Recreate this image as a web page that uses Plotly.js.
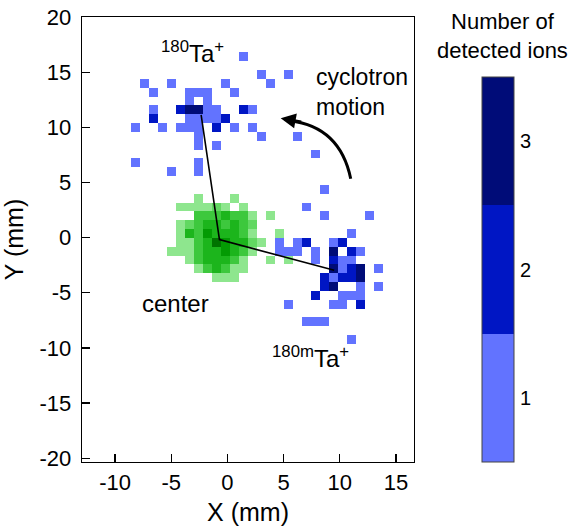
<!DOCTYPE html>
<html><head><meta charset="utf-8">
<script src="https://cdn.plot.ly/plotly-3.0.1.min.js"></script>
<style>html,body{margin:0;padding:0;background:#fff}#chart{width:573px;height:527px}</style>
</head><body><div id="chart"></div>
<script>
// detector image bins (mm)
const binSize = 0.8;
const binOriginX = -0.2;
const binOriginY = 0.4;

// blue: ions after excitation (count per pixel)
const blueX = [1.4,3.0,5.4,-7.4,-5.0,-0.2,3.8,-6.6,-3.4,-2.6,-1.8,0.6,-3.4,-1.8,
  -6.6,-4.2,-3.4,-2.6,-1.8,-1.0,1.4,2.2,-6.6,-3.4,-2.6,-1.8,-1.0,-0.2,
  -8.2,-5.8,-4.2,-3.4,-2.6,-1.0,0.6,2.2,-2.6,3.0,6.2,-2.6,-1.0,7.8,-8.2,-2.6,-5.0,-2.6,
  8.6,7.0,8.6,12.6,11.0,
  4.6,6.2,7.0,9.4,10.2,4.6,5.4,6.2,7.8,9.4,11.0,11.8,7.8,9.4,10.2,11.0,
  9.4,10.2,11.0,11.8,13.4,8.6,9.4,10.2,11.0,11.8,8.6,9.4,11.8,13.4,
  7.8,10.2,11.0,11.8,5.4,9.4,10.2,11.8,7.0,7.8,8.6,11.0];
const blueY = [16.4,14.8,14.8,14.0,14.0,14.0,14.0,13.2,13.2,13.2,13.2,13.2,12.4,12.4,
  11.6,11.6,11.6,11.6,11.6,11.6,11.6,11.6,10.8,10.8,10.8,10.8,10.8,10.8,
  10.0,10.0,10.0,10.0,10.0,10.0,10.0,10.0,9.2,9.2,9.2,8.4,8.4,7.6,6.8,6.8,6.0,6.0,
  4.4,2.8,2.0,2.0,0.4,
  -0.4,-0.4,-0.4,-0.4,-0.4,-1.2,-1.2,-1.2,-1.2,-1.2,-1.2,-1.2,-2.0,-2.0,-2.0,-2.0,
  -2.8,-2.8,-2.8,-2.8,-2.8,-3.6,-3.6,-3.6,-3.6,-3.6,-4.4,-4.4,-4.4,-4.4,
  -5.2,-5.2,-5.2,-5.2,-6.0,-6.0,-6.0,-6.0,-7.6,-7.6,-7.6,-9.2];
const blueCount = [1,1,1,1,1,1,1,1,1,1,1,1,1,1,
  1,2,3,3,1,1,2,1,2,1,1,1,1,2,
  1,1,1,1,1,2,1,1,1,1,1,1,1,1,1,1,1,1,
  1,1,1,1,1,
  1,1,2,1,2,1,1,1,1,3,2,1,1,2,1,1,
  3,1,2,3,1,2,1,2,2,3,2,3,1,1,
  2,1,1,1,1,1,1,2,1,1,1,1];

// green: ions without excitation (center), relative intensity level
const greenX = [-2.6,0.6,
  -4.2,-3.4,-2.6,-1.8,-1.0,-0.2,1.4,
  -2.6,-1.8,-1.0,-0.2,0.6,1.4,2.2,3.8,
  -4.2,-3.4,-2.6,-1.8,-1.0,-0.2,0.6,1.4,2.2,
  -4.2,-3.4,-2.6,-1.8,-1.0,-0.2,0.6,1.4,2.2,4.6,
  -4.2,-3.4,-2.6,-1.8,-1.0,-0.2,0.6,1.4,2.2,3.0,
  -5.0,-4.2,-3.4,-2.6,-1.8,-1.0,-0.2,0.6,1.4,2.2,
  -3.4,-2.6,-1.8,-1.0,-0.2,0.6,1.4,3.8,5.4,
  -2.6,-1.8,-1.0,-0.2,0.6,1.4,
  -1.0,-0.2,0.6];
const greenY = [3.6,3.6,
  2.8,2.8,2.8,2.8,2.8,2.8,2.8,
  2.0,2.0,2.0,2.0,2.0,2.0,2.0,2.0,
  1.2,1.2,1.2,1.2,1.2,1.2,1.2,1.2,1.2,
  0.4,0.4,0.4,0.4,0.4,0.4,0.4,0.4,0.4,0.4,
  -0.4,-0.4,-0.4,-0.4,-0.4,-0.4,-0.4,-0.4,-0.4,-0.4,
  -1.2,-1.2,-1.2,-1.2,-1.2,-1.2,-1.2,-1.2,-1.2,-1.2,
  -2.0,-2.0,-2.0,-2.0,-2.0,-2.0,-2.0,-2.0,-2.0,
  -2.8,-2.8,-2.8,-2.8,-2.8,-2.8,
  -3.6,-3.6,-3.6];
const greenLevel = [1,1,
  1,1,1,1,2,1,1,
  3,3,3,4,3,3,1,1,
  1,2,3,4,4,3,4,3,2,
  1,4,3,5,4,4,4,3,1,1,
  1,1,3,4,6,5,4,4,2,1,
  1,1,1,3,4,4,5,4,3,1,
  1,3,4,4,4,3,1,1,1,
  1,3,4,3,1,1,
  1,1,1];

// fitted positions (mm)
const centerPos = [-0.71, -0.18];
const ta180Pos = [-2.34, 11.12];
const ta180mPos = [9.5, -2.96];

const xTicks = [-10, -5, 0, 5, 10, 15];
const yTicks = [-20, -15, -10, -5, 0, 5, 10, 15, 20];
const countTicks = [1, 2, 3];
const blueColors = ['#6273ff', '#0016c4', '#000c78'];
const greenColors = ['#8ee68e', '#62d862', '#3dc83d', '#1cb51c', '#039b03', '#007400'];

function grid(xs, ys, vs) {
  const iMin = -13, iMax = 19, jMin = -14, jMax = 22;
  const gx = [], gy = [], z = [];
  for (let i = iMin; i <= iMax; i++) gx.push(+(binOriginX + binSize * i).toFixed(2));
  for (let j = jMin; j <= jMax; j++) { gy.push(+(binOriginY + binSize * j).toFixed(2)); z.push(new Array(gx.length).fill(null)); }
  xs.forEach((x, k) => {
    const i = Math.round((x - binOriginX) / binSize) - iMin;
    const j = Math.round((ys[k] - binOriginY) / binSize) - jMin;
    z[j][i] = vs[k];
  });
  return {x: gx, y: gy, z};
}
function discrete(colors) {
  const n = colors.length, cs = [];
  colors.forEach((c, k) => { cs.push([k / n, c]); cs.push([(k + 1) / n, c]); });
  return cs;
}

const g = grid(greenX, greenY, greenLevel);
const b = grid(blueX, blueY, blueCount);
const font = 'Liberation Sans, Arial, sans-serif';

const traces = [
  {type: 'heatmap', x: g.x, y: g.y, z: g.z, colorscale: discrete(greenColors), zmin: 0.5, zmax: 6.5, showscale: false, hoverinfo: 'skip'},
  {type: 'heatmap', x: b.x, y: b.y, z: b.z, colorscale: discrete(blueColors), zmin: 0.5, zmax: 3.5, showscale: true, hoverinfo: 'skip',
   colorbar: {x: 1.204, xanchor: 'left', xpad: 0, ypad: 0, thickness: 32, len: 0.8645, lenmode: 'fraction', y: 0, yanchor: 'bottom',
     tickvals: countTicks, ticktext: countTicks.map(String), ticks: 'outside', ticklen: 2, tickcolor: 'rgba(0,0,0,0)',
     tickfont: {size: 20, family: font, color: '#000'}, outlinewidth: 1, outlinecolor: '#444'}},
  {type: 'scatter', mode: 'lines', x: [ta180Pos[0], centerPos[0], ta180mPos[0]], y: [ta180Pos[1], centerPos[1], ta180mPos[1]],
   line: {color: '#000', width: 1.6}, hoverinfo: 'skip'}
];

const axisCommon = {ticks: 'inside', ticklen: 8, tickwidth: 1.3, tickcolor: '#000', showline: true, linecolor: '#000', linewidth: 1.3,
  mirror: true, showgrid: false, zeroline: false, tickfont: {size: 22, family: font, color: '#000'}};

const layout = {
  width: 573, height: 527,
  margin: {l: 82, r: 159, t: 17, b: 65},
  paper_bgcolor: '#fff', plot_bgcolor: '#fff',
  font: {family: font, color: '#000'},
  showlegend: false,
  xaxis: Object.assign({}, axisCommon, {range: [-12.94, 16.6], tickvals: xTicks, ticktext: xTicks.map(String), ticklabelstandoff: 0,
    title: {text: 'X (mm)', font: {size: 25, family: font}, standoff: 9}}),
  yaxis: Object.assign({}, axisCommon, {range: [-20.34, 20], tickvals: yTicks, ticktext: yTicks.map(String), ticklabelstandoff: 5,
    title: {text: 'Y (mm)', font: {size: 25, family: font}, standoff: 8}}),
  shapes: [
    {type: 'path', xref: 'x', yref: 'y', path: 'M 10.97 5.34 Q 10.02 10.05 5.57 10.6', line: {color: '#000', width: 3}}
  ],
  annotations: [
    {x: 4.74, y: 10.82, xref: 'x', yref: 'y', text: '', showarrow: true, ax: 22, ay: 4, arrowhead: 2, arrowsize: 1, arrowwidth: 3, arrowcolor: '#000'},
    {x: -6.1, y: 16.85, xref: 'x', yref: 'y', text: '<sup>180</sup>Ta<sup>+</sup>', showarrow: false, xanchor: 'left', yanchor: 'middle', font: {size: 24, family: font}},
    {x: 3.75, y: -10.8, xref: 'x', yref: 'y', text: '<sup>180m</sup>Ta<sup>+</sup>', showarrow: false, xanchor: 'left', yanchor: 'middle', font: {size: 24, family: font}},
    {x: -7.75, y: -5.95, xref: 'x', yref: 'y', text: 'center', showarrow: false, xanchor: 'left', yanchor: 'middle', font: {size: 24, family: font}},
    {x: 7.7, y: 13.2, xref: 'x', yref: 'y', text: 'cyclotron<br>motion', align: 'left', showarrow: false, xanchor: 'left', yanchor: 'middle', font: {size: 23, family: font}},
    {x: 1.267, y: 0.958, xref: 'paper', yref: 'paper', text: 'Number of<br>detected ions', showarrow: false, xanchor: 'center', yanchor: 'middle', font: {size: 22, family: font}}
  ]
};

Plotly.newPlot('chart', traces, layout, {staticPlot: true, displayModeBar: false});
</script></body></html>
